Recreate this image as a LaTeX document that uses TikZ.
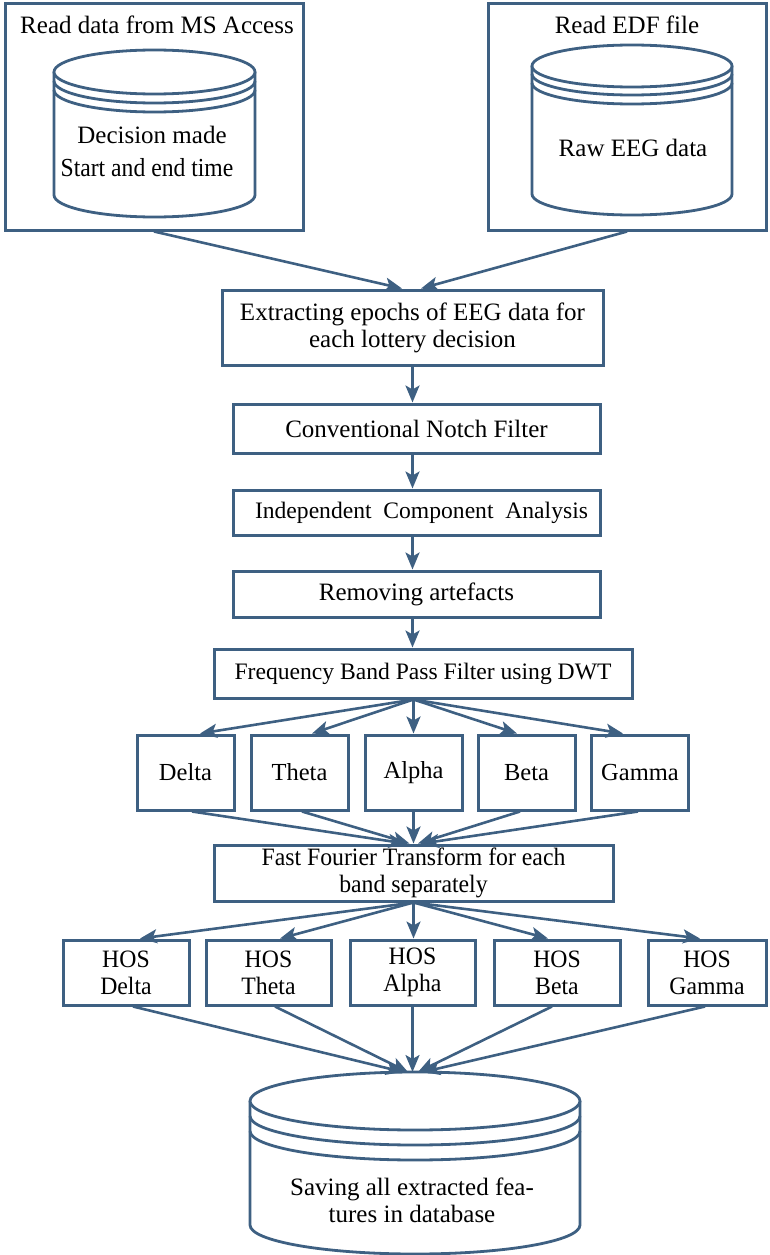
\documentclass[tikz,border=0pt]{standalone}
\usepackage{fontspec}
\setmainfont{Liberation Serif}
\newfontfamily\narrowA[FakeStretch=0.91]{Liberation Serif}
\newfontfamily\narrowB[FakeStretch=0.95]{Liberation Serif}
\usetikzlibrary{arrows.meta,calc}
\definecolor{lc}{RGB}{62,96,130}
\newcommand\dbshape[7]{%
  \fill[white] (#1-#2,#3) -- (#1-#2,#5) arc[start angle=180,end angle=360,x radius=#2pt,y radius=#4pt] -- (#1+#2,#3) -- cycle;
  \draw[cyl] (#1-#2,#3) -- (#1-#2,#5) arc[start angle=180,end angle=360,x radius=#2pt,y radius=#4pt] -- (#1+#2,#3);
  \draw[cyl,fill=white] (#1,#3) ellipse[x radius=#2pt,y radius=#4pt];
  \draw[cyl] (#1-#2,#3+#6) arc[start angle=180,end angle=360,x radius=#2pt,y radius=#4pt];
  \draw[cyl] (#1-#2,#3+#7) arc[start angle=180,end angle=360,x radius=#2pt,y radius=#4pt];
}
\begin{document}
\begin{tikzpicture}[x=1pt,y=-1pt,
  box/.style={draw=lc,line width=3pt,fill=white,inner sep=0pt,align=center,font=\fontsize{25}{27}\selectfont},
  con/.style={draw=lc,line width=2.6pt,-{Stealth[length=17pt,width=14pt,inset=4pt]}},
  cyl/.style={draw=lc,line width=2.8pt},
  lbl/.style={inner sep=0pt,align=center,font=\fontsize{25}{27}\selectfont},
  small/.style={font=\fontsize{23.6}{26}\selectfont},
  narrow/.style={font=\narrowB\fontsize{25}{27}\selectfont}
]
\useasboundingbox (0,0) rectangle (770,1255);

% source boxes
\node[box,minimum width=298pt,minimum height=226pt] (srcL) at (154,117) {};
\node[box,minimum width=278pt,minimum height=226pt] (srcR) at (627,117) {};
\node[lbl] (tL) at (157,25) {Read data from MS Access};
\node[lbl] (tR) at (627,25) {Read EDF file};
\dbshape{154.5}{100.5}{72}{22}{195}{9}{18}
\dbshape{632}{100}{66}{21}{194}{8}{17}
\node[lbl] (dm) at (152,135) {Decision made};
\node[lbl,font=\narrowA\fontsize{26}{28}\selectfont] (se) at (147,168) {Start and end time};
\node[lbl] (raw) at (633,148) {Raw EEG data};

% process boxes
\node[box,minimum width=381pt,minimum height=75pt] (extract) at (412.5,327.5) {Extracting epochs of EEG data for\\each lottery decision};
\node[box,minimum width=367pt,minimum height=49pt] (notch) at (416.5,428.5) {Conventional Notch Filter};
\node[box,small,minimum width=367pt,minimum height=45pt] (ica) at (416.5,512.5) {\hspace*{10pt}Independent\ \ Component\ \ Analysis};
\node[box,minimum width=367pt,minimum height=46pt] (remove) at (416.5,594) {Removing artefacts};
\node[box,small,minimum width=418pt,minimum height=49pt] (freq) at (423,673.5) {Frequency Band Pass Filter using DWT};

\foreach \n/\x/\t in {delta/185.5/Delta,theta/299.5/Theta,alpha/413.5/Alpha,beta/526.5/Beta,gamma/640/Gamma}{
  \node[box,font=\fontsize{24.5}{26}\selectfont,minimum width=97pt,minimum height=75pt] (\n) at (\x,772.5) {\t};
}
\node[box,narrow,minimum width=399pt,minimum height=56pt] (fft) at (413.5,873) {Fast Fourier Transform for each\\band separately};

\node[box,narrow,minimum width=126pt,minimum height=65pt] (hdelta) at (126,972.5) {HOS\\Delta};
\node[box,narrow,minimum width=125pt,minimum height=65pt] (htheta) at (268.5,972.5) {HOS\\Theta};
\node[box,narrow,minimum width=125pt,minimum height=65pt] (halpha) at (412.5,972.5) {HOS\\Alpha};
\node[box,narrow,minimum width=126pt,minimum height=65pt] (hbeta) at (557,972.5) {HOS\\Beta};
\node[box,narrow,minimum width=118pt,minimum height=65pt] (hgamma) at (707,972.5) {HOS\\Gamma};

% database
\dbshape{415}{165}{1101}{29}{1225}{15}{30}
\node[lbl] (dbtext) at (412,1200) {Saving all extracted fea-\\tures in database};
\coordinate (dbtop) at (413,1072);

% connectors
\draw[con] (srcL.south) -- ([xshift=-10.5pt]extract.north);
\draw[con] (srcR.south) -- ([xshift=8.5pt]extract.north);
\draw[con] (extract.south) -- (extract.south |- notch.north);
\draw[con] (extract.south |- notch.south) -- (extract.south |- ica.north);
\draw[con] (extract.south |- ica.south) -- (extract.south |- remove.north);
\draw[con] (extract.south |- remove.south) -- (extract.south |- freq.north);

\coordinate (fs) at (freq.south -| alpha.north);
\draw[con] (fs) -- ([xshift=14.5pt]delta.north);
\draw[con] (fs) -- ([xshift=12.5pt]theta.north);
\draw[con] (fs) -- (alpha.north);
\draw[con] (fs) -- ([xshift=-9.5pt]beta.north);
\draw[con] (fs) -- ([xshift=-17pt]gamma.north);

\draw[con] ([xshift=6.5pt]delta.south) -- ([xshift=-8pt]fft.north);
\draw[con] ([xshift=2.5pt]theta.south) -- ([xshift=-4pt]fft.north);
\draw[con] (alpha.south) -- (alpha.south |- fft.north);
\draw[con] ([xshift=-6.5pt]beta.south) -- ([xshift=4.5pt]fft.north);
\draw[con] ([xshift=-2pt]gamma.south) -- ([xshift=8.5pt]fft.north);

\draw[con] (fft.south) -- ([xshift=14pt]hdelta.north);
\draw[con] (fft.south) -- ([xshift=11.5pt]htheta.north);
\draw[con] (fft.south) -- (fft.south |- halpha.north);
\draw[con] (fft.south) -- ([xshift=-9pt]hbeta.north);
\draw[con] (fft.south) -- ([xshift=-7pt]hgamma.north);

\draw[con] ([xshift=7pt]hdelta.south) -- ([xshift=-10pt]dbtop);
\draw[con] ([xshift=6.5pt]htheta.south) -- ([xshift=-5pt]dbtop);
\draw[con] (halpha.south) -- (halpha.south |- dbtop);
\draw[con] ([xshift=-5pt]hbeta.south) -- ([xshift=5pt]dbtop);
\draw[con] ([xshift=-2pt]hgamma.south) -- ([xshift=10pt]dbtop);
\end{tikzpicture}
\end{document}
